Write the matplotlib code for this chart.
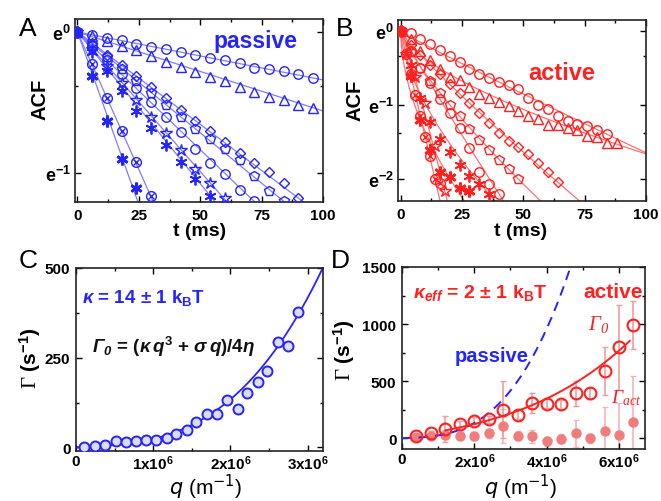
import numpy as np
import matplotlib
matplotlib.use('Agg')
import matplotlib.pyplot as plt
from matplotlib.ticker import FixedLocator, NullFormatter, MultipleLocator

plt.rcParams['mathtext.fontset'] = 'custom'
plt.rcParams['mathtext.rm'] = 'Liberation Sans:bold'
plt.rcParams['mathtext.it'] = 'Liberation Sans:italic:bold'
plt.rcParams['mathtext.bf'] = 'Liberation Sans:bold'
plt.rcParams['mathtext.sf'] = 'Liberation Serif:italic'
plt.rcParams['mathtext.tt'] = 'Liberation Sans:italic:bold'
plt.rcParams['mathtext.cal'] = 'Liberation Serif'
plt.rcParams['font.family'] = ['Liberation Sans', 'DejaVu Sans']

# ---------------- data: panel A (passive ACF), ln(ACF) vs t (ms) -------------
A_circle1 = [0, -0.02, -0.04, -0.06, -0.085, -0.105, -0.12, -0.145, -0.16, -0.185, -0.20, -0.22, -0.255, -0.265, -0.28, -0.30, -0.325]
A_triangle = [0, -0.03, -0.062, -0.097, -0.13, -0.17, -0.215, -0.25, -0.285, -0.32, -0.345, -0.39, -0.425, -0.46, -0.48, -0.515, -0.54]
A_diamond = [0, -0.08, -0.16, -0.235, -0.315, -0.39, -0.47, -0.55, -0.63, -0.70, -0.78, -0.855, -0.93, -0.995, -1.07, -1.18]
A_pentagon = [0, -0.09, -0.175, -0.26, -0.345, -0.43, -0.515, -0.60, -0.69, -0.76, -0.83, -0.91, -1.02, -1.125, -1.20]
A_circle2 = [0, -0.10, -0.20, -0.30, -0.40, -0.50, -0.60, -0.71, -0.83, -0.93, -1.01, -1.12, -1.20]
A_star = [0, -0.12, -0.24, -0.36, -0.48, -0.60, -0.72, -0.84, -0.97, -1.07, -1.18]
A_aster1 = [0, -0.14, -0.28, -0.42, -0.56, -0.68, -0.80, -0.92, -1.04, -1.16]
A_xcircle = [0, -0.23, -0.47, -0.70, -0.92, -1.16]
A_aster2 = [0, -0.31, -0.63, -0.90, -1.11]
# fitted decay rates (1/ms) of the straight lines
A_rates = [0.0034, 0.0056, 0.0131, 0.0143, 0.0167, 0.0198, 0.0215, 0.039, 0.049]

# ---------------- data: panel B (active ACF) ----------------------------------
B_circle1 = [0, -0.02, -0.10, -0.17, -0.25, -0.34, -0.42, -0.51, -0.58, -0.63, -0.68, -0.73, -0.78, -0.90, -1.00, -1.05, -1.14, -1.21, -1.25, -1.28, -1.33, -1.39]
B_triangle = [0, -0.11, -0.27, -0.39, -0.51, -0.62, -0.66, -0.75, -0.85, -0.90, -0.96, -1.01, -1.07, -1.15, -1.18, -1.27, -1.26, -1.31, -1.33, -1.41, -1.43, -1.51, -1.51]
B_diamond = [0, -0.18, -0.32, -0.45, -0.58, -0.71, -0.84, -0.97, -1.10, -1.24, -1.37, -1.48, -1.56, -1.66, -1.78, -1.90, -2.04]
B_pentagon = [0, -0.28, -0.50, -0.67, -0.84, -1.00, -1.15, -1.32, -1.47, -1.60, -1.74, -1.86, -2.00]
B_circle2 = [0, -0.27, -0.50, -0.70, -0.92, -1.11, -1.30, -1.58, -1.90, -2.07, -2.20]
B_aster1 = [0, -0.45, -0.90, -1.22, -1.45, -1.63, -1.80, -1.95, -2.07, -2.20]
B_aster2 = [0, -0.60, -1.20, -1.60, -1.90, -1.97, -2.12, -2.16]
B_star_t = [0, 2, 6, 10, 14, 18]
B_star = [0, -0.30, -0.62, -0.97, -1.55, -2.16]
B_xcircle_t = [0, 2, 4, 6, 8, 10, 12, 14, 16]
B_xcircle = [0, -0.30, -0.58, -0.86, -1.15, -1.43, -1.68, -2.00, -2.05]
# stretched-exponential fits: ACF = exp(-(t/tau)^beta)
B_tau = [59.5, 46.0, 29.0, 20.2, 17.5, 10.3, 5.74, 8.93, 7.0]
B_beta = [0.955, 0.65, 0.90, 0.80, 0.95, 0.63, 0.55, 1.10, 1.0]

# ---------------- data: panel C (passive relaxation rates) --------------------
qC = [0.103, 0.246, 0.375, 0.517, 0.647, 0.776, 0.905, 1.035, 1.173, 1.302, 1.432,
      1.561, 1.699, 1.828, 1.962, 2.10, 2.22, 2.36, 2.48, 2.62, 2.75, 2.88]   # x1e6 m^-1
GC = [1.9, 3.6, 6.4, 17.5, 15.8, 18.6, 20.3, 20.3, 26.9, 36, 48,
      71, 92, 92, 131, 106, 153, 182, 212, 295, 284, 377]                    # s^-1
kT = 4.11e-21
kappa_passive = 14 * kT
sigma_passive = 3.75e-8
eta = 1e-3

# ---------------- data: panel D (active relaxation rates) ---------------------
qD = [0.4, 0.8, 1.2, 1.6, 2.0, 2.4, 2.8, 3.2, 3.6, 4.0, 4.4, 4.8, 5.2, 5.6, 6.0, 6.4]  # x1e6
G0 = [20, 44, 79, 123, 152, 167, 248, 205, 307, 301, 298, 395, 392, 590, 795, 991]
G0_err = [15, 20, 115, 30, 30, 30, 250, 40, 85, 40, 40, 110, 50, 210, 370, 210]
Gact = [10, 15, 30, 20, 22, 42, 108, 20, 15, -28, -5, 42, 0, 62, 30, 142]
Gact_err = [20, 20, 40, 30, 30, 40, 150, 40, 60, 40, 40, 120, 40, 210, 280, 400]
kappa_eff = 2 * kT
sigma_eff = 2.15e-7

# ---------------- figure --------------------------------------------------------
W, H = 661, 502
fig = plt.figure(figsize=(W / 100, H / 100), dpi=100)


def rect(l, t, r, b):
    return [l / W, 1 - b / H, (r - l) / W, (b - t) / H]


def ftext(x, y, s, **kw):
    fig.text(x / W, 1 - y / H, s, **kw)


axA = fig.add_axes(rect(75, 20, 323, 203))
axB = fig.add_axes(rect(398, 21, 646, 202))
axC = fig.add_axes(rect(76, 269, 323, 452))
axD = fig.add_axes(rect(402, 268, 645, 450))

for ax in (axA, axB, axC, axD):
    ax.tick_params(which='both', direction='in', top=True, right=True,
                   labelsize=11, width=1.0, pad=4)
    ax.tick_params(which='major', length=4)
    ax.tick_params(which='minor', length=2.5)
    for sp in ax.spines.values():
        sp.set_linewidth(1.2)
        sp.set_color('#222222')
for ax in (axA, axB):
    ax.tick_params(axis='y', labelsize=13, pad=3)
for ax in (axC, axD):
    ax.tick_params(axis='x', pad=2)

BLUE = '#2424ff'
BLUE_L = '#7d7dff'
RED = '#ff2020'
RED_L = '#ff7070'

# ---- panel A
tt = np.linspace(0, 100, 500)
for r in A_rates:
    axA.plot(tt, np.exp(-r * tt), color=BLUE_L, lw=0.9, zorder=1)


def tgrid(vals, step):
    return np.arange(len(vals)) * step


mk = dict(fillstyle='none', linestyle='none', mew=1.0, zorder=3)
ast = (6, 2, 0)
axA.plot(tgrid(A_circle1, 6), np.exp(A_circle1), 'o', color=BLUE, ms=6.8, **mk)
axA.plot(tgrid(A_triangle, 6), np.exp(A_triangle), '^', color=BLUE, ms=7.2, **mk)
axA.plot(tgrid(A_diamond, 6), np.exp(A_diamond), 'D', color=BLUE, ms=5.6, **mk)
axA.plot(tgrid(A_pentagon, 6), np.exp(A_pentagon), 'p', color=BLUE, ms=7.2, **mk)
axA.plot(tgrid(A_circle2, 6), np.exp(A_circle2), 'o', color=BLUE, ms=6.8, **mk)
axA.plot(tgrid(A_star, 6), np.exp(A_star), '*', color=BLUE, ms=9, **mk)
axA.plot(tgrid(A_aster1, 6), np.exp(A_aster1), marker=ast, color=BLUE, ms=8.5, linestyle='none', mew=1.3, zorder=3)
axA.plot(tgrid(A_xcircle, 6), np.exp(A_xcircle), 'o', color=BLUE, ms=7, **mk)
axA.plot(tgrid(A_xcircle, 6), np.exp(A_xcircle), 'x', color=BLUE, ms=5, linestyle='none', mew=1.0, zorder=3)
axA.plot(tgrid(A_aster2, 6), np.exp(A_aster2), marker=ast, color=BLUE, ms=8.5, linestyle='none', mew=1.9, zorder=3)

axA.set_yscale('log', base=np.e)
axA.set_xlim(-1, 100)
axA.set_ylim(np.exp(-1.206), np.exp(0.092))
axA.set_yticks([1, np.exp(-1)], [r'$\mathrm{e}^{0}$', r'$\mathrm{e}^{-1}$'])
axA.yaxis.set_minor_locator(FixedLocator([np.exp(-0.38)]))
axA.yaxis.set_minor_formatter(NullFormatter())
axA.set_xticks([0, 25, 50, 75, 100])
axA.xaxis.set_minor_locator(MultipleLocator(12.5))

# ---- panel B
tt2 = np.linspace(0.0, 100, 800)
for tau, be in zip(B_tau, B_beta):
    axB.plot(tt2, np.exp(-(tt2 / tau) ** be), color=RED_L, lw=0.9, zorder=1)
axB.plot(tgrid(B_circle1, 4), np.exp(B_circle1), 'o', color=RED, ms=6.8, **mk)
axB.plot(tgrid(B_triangle, 4), np.exp(B_triangle), '^', color=RED, ms=7.2, **mk)
axB.plot(tgrid(B_diamond, 4), np.exp(B_diamond), 'D', color=RED, ms=5.6, **mk)
axB.plot(tgrid(B_pentagon, 4), np.exp(B_pentagon), 'p', color=RED, ms=7.2, **mk)
axB.plot(tgrid(B_circle2, 4), np.exp(B_circle2), 'o', color=RED, ms=6.8, **mk)
axB.plot(tgrid(B_aster1, 4), np.exp(B_aster1), marker=ast, color=RED, ms=8.5, linestyle='none', mew=1.3, zorder=3)
axB.plot(tgrid(B_aster2, 4), np.exp(B_aster2), marker=ast, color=RED, ms=8.5, linestyle='none', mew=1.9, zorder=3)
axB.plot(B_star_t, np.exp(B_star), '*', color=RED, ms=9, **mk)
axB.plot(B_xcircle_t, np.exp(B_xcircle), 'o', color=RED, ms=7, **mk)
axB.plot(B_xcircle_t, np.exp(B_xcircle), 'x', color=RED, ms=5, linestyle='none', mew=1.0, zorder=3)

axB.set_yscale('log', base=np.e)
axB.set_xlim(-1.1, 100)
axB.set_ylim(np.exp(-2.293), np.exp(0.153))
axB.set_yticks([1, np.exp(-1), np.exp(-2)],
               [r'$\mathrm{e}^{0}$', r'$\mathrm{e}^{-1}$', r'$\mathrm{e}^{-2}$'])
axB.yaxis.set_minor_locator(FixedLocator([np.exp(-0.34), np.exp(-1.38)]))
axB.yaxis.set_minor_formatter(NullFormatter())
axB.set_xticks([0, 25, 50, 75, 100])
axB.xaxis.set_minor_locator(MultipleLocator(12.5))

# ---- panel C
qq = np.linspace(0, 3.3e6, 400)
G_pass = (kappa_passive * qq ** 3 + sigma_passive * qq) / (4 * eta)
axC.plot(qq, G_pass, color=BLUE, lw=1.3, zorder=2)
axC.plot(np.array(qC) * 1e6, GC, 'o', color=BLUE, ms=7.2, mew=1.4,
         markerfacecolor='#dcdcff', linestyle='none', zorder=3)
axC.set_xlim(0, 3.2e6)
axC.set_ylim(-10, 500)
axC.set_xticks([0, 1e6, 2e6, 3e6], ['0', r'1x10$^{6}$', r'2x10$^{6}$', r'3x10$^{6}$'])
axC.xaxis.set_minor_locator(MultipleLocator(0.5e6))
axC.set_yticks([0, 250, 500])
axC.yaxis.set_minor_locator(MultipleLocator(125))

# ---- panel D
qD_m = np.array(qD) * 1e6
qp = np.linspace(0, 5e6, 400)
G_pass_D = (kappa_passive * qp ** 3 + sigma_passive * qp) / (4 * eta)
axD.plot(qp, G_pass_D, color=BLUE, lw=1.4, ls=(0, (5, 3.5)), zorder=4)
qa = np.linspace(1.2e6, 6.3e6, 300)
G_act_fit = (kappa_eff * qa ** 3 + sigma_eff * qa) / (4 * eta)
axD.plot(qa, G_act_fit, color=RED, lw=1.4, zorder=4)
axD.errorbar(qD_m, Gact, yerr=Gact_err, fmt='none', ecolor='#f7b4b4', elinewidth=1.2,
             capsize=2, capthick=1.0, zorder=1)
axD.errorbar(qD_m, G0, yerr=G0_err, fmt='none', ecolor='#f49c9c', elinewidth=1.2,
             capsize=2, capthick=1.0, zorder=1)
axD.plot(qD_m, Gact, 'o', color='#f07c7c', ms=7.5, mew=0, linestyle='none', zorder=2)
axD.plot(qD_m, G0, 'o', color=RED, ms=8.5, mew=1.5, markerfacecolor='none',
         linestyle='none', zorder=5)
axD.set_xlim(0, 6.72e6)
axD.set_ylim(-95, 1500)
axD.set_xticks([0, 2e6, 4e6, 6e6], ['0', r'2x10$^{6}$', r'4x10$^{6}$', r'6x10$^{6}$'])
axD.xaxis.set_minor_locator(MultipleLocator(1e6))
axD.set_yticks([0, 500, 1000, 1500])
axD.yaxis.set_minor_locator(MultipleLocator(250))

for ax in (axA, axB, axC, axD):
    for lab in ax.get_xticklabels() + ax.get_yticklabels():
        lab.set_fontweight('bold')

# ---- texts
for x, y, s in [(28, 36, 'A'), (345, 36, 'B'), (28, 268, 'C'), (340, 268, 'D')]:
    ftext(x, y, s, fontsize=19, ha='center', va='baseline')

ftext(255, 48, 'passive', color=BLUE, fontsize=16.5, fontweight='bold', ha='center', va='baseline')
ftext(562, 80, 'active', color=RED, fontsize=17, fontweight='bold', ha='center', va='baseline')

ftext(40, 99, 'ACF', fontsize=14.5, fontweight='bold', rotation=90, ha='center', va='center')
ftext(355, 100, 'ACF', fontsize=14.5, fontweight='bold', rotation=90, ha='center', va='center')
ftext(200, 236, 't (ms)', fontsize=14, fontweight='bold', ha='center', va='baseline')
ftext(521, 236, 't (ms)', fontsize=14, fontweight='bold', ha='center', va='baseline')

ftext(82, 303, r'$\kappa$ = 14 $\pm$ 1 k$_\mathrm{B}$T', color=BLUE, fontsize=13.5,
      fontweight='bold', ha='left', va='baseline')
ftext(92, 353, r'$\mathtt{\Gamma_0}$ = ($\kappa\,q^3$ + $\sigma\,q$)/4$\eta$', color='#111111',
      fontsize=13.5, fontweight='bold', ha='left', va='baseline')

ftext(30, 358, r'$\mathcal{\Gamma}$ (s$^{-1}$)', fontsize=15, fontweight='bold', rotation=90,
      ha='center', va='center')
ftext(344, 350, r'$\mathcal{\Gamma}$ (s$^{-1}$)', fontsize=15, fontweight='bold', rotation=90,
      ha='center', va='center')
ftext(206, 495, r'$q$ (m$^{-1}$)', fontsize=15, ha='center', va='baseline', math_fontfamily='dejavusans')
ftext(521, 495, r'$q$ (m$^{-1}$)', fontsize=15, ha='center', va='baseline', math_fontfamily='dejavusans')

ftext(413, 298, r'$\kappa_{eff}$ = 2 $\pm$ 1 k$_\mathrm{B}$T', color=RED, fontsize=14,
      fontweight='bold', ha='left', va='baseline')
ftext(643, 298, 'active', color=RED, fontsize=15, fontweight='bold', ha='right', va='baseline')
ftext(588, 330, r'$\mathsf{\Gamma_0}$', color=RED, fontsize=15, ha='left', va='baseline')
ftext(492, 362, 'passive', color=BLUE, fontsize=14.5, fontweight='bold', ha='center', va='baseline')
ftext(611, 403, r'$\mathsf{\Gamma_{act}}$', color=RED, fontsize=14, ha='left', va='baseline')

fig.savefig('out.png', dpi=100)
